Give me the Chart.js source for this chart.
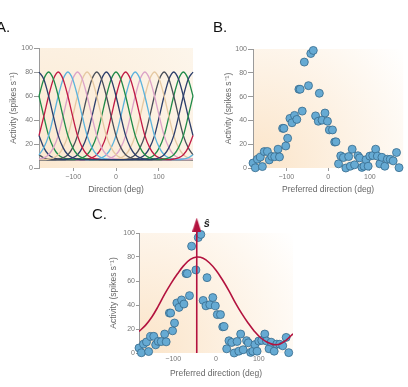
<!DOCTYPE html>
<html>
<head>
<meta charset="utf-8">
<script src="https://cdn.jsdelivr.net/npm/chart.js@4.4.1/dist/chart.umd.min.js"></script>
<style>
  html, body { margin: 0; padding: 0; background: #fff; }
  body { width: 408px; height: 387px; position: relative; overflow: hidden; font-family: "Liberation Sans", Arial, sans-serif; }
  canvas { position: absolute; }
  .tag { position: absolute; color: #111; font-size: 15px; line-height: 15px; }
</style>
</head>
<body>
<canvas id="chartA" width="200" height="200" style="left:0;top:0"></canvas>
<canvas id="chartB" width="208" height="200" style="left:200px;top:0"></canvas>
<canvas id="chartC" width="220" height="187" style="left:90px;top:200px"></canvas>
<div class="tag" style="left:-4px;top:19px">A.</div>
<div class="tag" style="left:213px;top:19px">B.</div>
<div class="tag" style="left:92px;top:206px">C.</div>

<script>
// ---- shared axis ticks ----
const xTicks = [-100, 0, 100];
const yTicks = [0, 20, 40, 60, 80, 100];

// ---- panel A: tuning curves ----
const dirGrid = [-180, -168.75, -157.5, -146.25, -135, -123.75, -112.5, -101.25, -90, -78.75,
  -67.5, -56.25, -45, -33.75, -22.5, -11.25, 0, 11.25, 22.5, 33.75, 45, 56.25, 67.5, 78.75,
  90, 101.25, 112.5, 123.75, 135, 146.25, 157.5, 168.75, 180];
const prefDirs = [-180, -157.5, -135, -112.5, -90, -67.5, -45, -22.5, 0, 22.5, 45, 67.5, 90, 112.5, 135, 157.5];
// activity, every 11.25 deg away from its peak
const tuningShape = [80, 74, 60, 43, 27, 17, 11, 8.5, 7.5];
const baseline = 7;
const curveColors = ["#2c3e6b", "#1f8a48", "#c01a45", "#5cb3dd", "#dca3c8", "#e6c9a2", "#4a4f59"];

// ---- panels B and C: population response ----
const cellDirs = [-180, -174.5, -169.5, -162.5, -157.5, -153, -145.5, -141, -135, -128, -120, -116.5,
  -109, -106, -101.5, -97, -91.5, -86.5, -80.5, -75, -70, -67, -62, -57, -47, -41.5, -35.5, -30,
  -23.5, -21, -14.5, -7.5, -1.5, 3, 10.5, 15.7, 18.8, 25, 30.3, 36.7, 42.5, 49.3, 53.3, 57.7, 63.5,
  71.5, 75.5, 81, 86, 91, 96, 100, 107, 114, 118, 124, 129, 136, 142, 149, 156, 164, 170];
const cellRates = [4.2, 0.2, 7.4, 9.2, 1.2, 13.8, 13.9, 6.8, 9.7, 9.5, 15.8, 9.3,
  33.3, 33.3, 18.5, 25, 41.7, 38, 44.2, 40.8, 66.2, 66.2, 47.8, 89, 69.2, 96.2, 98.8, 43.8,
  39.3, 62.8, 40.2, 46.2, 39.3, 32, 32, 21.8, 22, 3.5, 10.2, 8.8, 0, 9.6, 1.5, 15.8, 2.7,
  10.3, 8.5, 0.5, 1.5, 7, 1.5, 10, 10.5, 15.8, 10, 3.5, 9, 1.5, 7.4, 7.3, 6, 13, 0.3];

// ---- panel C: fitted curve and population vector ----
const fitDirs = [-180, -165, -150, -135, -120, -105, -90, -75, -60, -45, -30, -15, 0, 15, 30, 45, 60, 75, 90, 105, 120, 135, 150, 165, 180];
const fitRates = [18, 23, 30, 39, 49, 58, 66, 73, 78, 80, 79, 75, 69, 61, 52, 42, 33, 25, 18, 12.5, 9, 7, 7.5, 11, 16];
const popDir = -45;
const arrowSpan = [0, 107];

const RED = "#b3123e";
Chart.defaults.font.family = '"Liberation Sans", Arial, sans-serif';
Chart.defaults.animation = false;

// cream shading behind each plot
const plotShade = {
  id: "plotShade",
  beforeDraw(chart, args, opts) {
    const { ctx, chartArea: a } = chart;
    const r = Math.hypot(a.width, a.height) * opts.reach;
    const g = ctx.createRadialGradient(a.left, a.bottom, 0, a.left, a.bottom, r);
    g.addColorStop(0, opts.inner);
    g.addColorStop(1, opts.outer);
    ctx.save();
    ctx.fillStyle = g;
    ctx.fillRect(a.left, a.top, a.width, a.height);
    ctx.restore();
  },
};

function makeScales(o) {
  return {
    x: {
      type: "linear",
      min: -180,
      max: 180,
      afterBuildTicks: (s) => { s.ticks = xTicks.map((v) => ({ value: v })); },
      afterFit: (s) => { s.height = o.xh; },
      border: { display: false },
      grid: { drawOnChartArea: false, drawTicks: o.xTickLen > 0, tickLength: o.xTickLen, color: "#9a9a9a" },
      ticks: { color: "#777", font: { size: 7 }, padding: o.xPad, maxRotation: 0, callback: (v) => (v < 0 ? "\u2212" + -v : v) },
      title: { display: true, text: o.xTitle, color: "#666", font: { size: 8.5 }, padding: { top: 0, bottom: o.xTitlePad } },
    },
    y: {
      min: 0,
      max: 100,
      afterBuildTicks: (s) => { s.ticks = yTicks.map((v) => ({ value: v })); },
      afterFit: (s) => { s.width = o.yw; },
      border: { display: true, color: "#9a9a9a", width: 1 },
      grid: { drawOnChartArea: false, tickLength: o.yTickLen, color: "#9a9a9a" },
      ticks: { color: "#777", font: { size: 7 }, padding: 1 },
      title: { display: true, text: "Activity (spikes s\u207B\u00B9)", color: "#666", font: { size: 8.5 }, padding: { top: o.yTitlePad, bottom: 0 } },
    },
  };
}

const dotStyle = {
  type: "scatter",
  pointRadius: 4,
  pointBackgroundColor: "#66aad3",
  pointBorderColor: "#356a8c",
  pointBorderWidth: 0.8,
  clip: false,
};

// ============ A ============
const curveSets = prefDirs.map((p, i) => ({
  data: dirGrid.map((x) => {
    let d = Math.abs(x - p) % 360;
    if (d > 180) d = 360 - d;
    const k = Math.round(d / 11.25);
    return { x: x, y: k < tuningShape.length ? tuningShape[k] : baseline };
  }),
  borderColor: curveColors[i % curveColors.length],
  borderWidth: 1.3,
  pointRadius: 0,
  cubicInterpolationMode: "monotone",
  clip: false,
}));

new Chart(document.getElementById("chartA"), {
  type: "line",
  data: { datasets: curveSets },
  options: {
    responsive: false,
    layout: { padding: { top: 48, right: 7, left: 0, bottom: 0 } },
    plugins: {
      legend: { display: false }, tooltip: { enabled: false },
      plotShade: { inner: "#fbe8d0", outer: "#fdf7ee", reach: 1.1 },
    },
    scales: makeScales({ xh: 32, yw: 39, xTickLen: 3, xPad: 2, xTitle: "Direction (deg)", xTitlePad: 5, yTickLen: 5, yTitlePad: 9 }),
  },
  plugins: [plotShade],
});

// ============ B ============
const cellPoints = cellDirs.map((x, i) => ({ x: x, y: cellRates[i] }));

new Chart(document.getElementById("chartB"), {
  type: "scatter",
  data: { datasets: [Object.assign({ data: cellPoints }, dotStyle)] },
  options: {
    responsive: false,
    layout: { padding: { top: 49, right: 0, left: 0, bottom: 0 } },
    plugins: {
      legend: { display: false }, tooltip: { enabled: false },
      plotShade: { inner: "#fbe4c8", outer: "#ffffff", reach: 1.0 },
    },
    scales: makeScales({ xh: 32, yw: 53, xTickLen: 3, xPad: 2, xTitle: "Preferred direction (deg)", xTitlePad: 5, yTickLen: 5, yTitlePad: 24 }),
  },
  plugins: [plotShade],
});

// ============ C ============
const headImg = document.createElement("canvas");
headImg.width = 9;
headImg.height = 14;
{
  const hc = headImg.getContext("2d");
  hc.fillStyle = RED;
  hc.beginPath();
  hc.moveTo(4.5, 0);
  hc.lineTo(9, 14);
  hc.lineTo(0, 14);
  hc.closePath();
  hc.fill();
}

const hatLabel = {
  id: "hatLabel",
  afterDatasetsDraw(chart) {
    const { ctx, scales } = chart;
    const x = scales.x.getPixelForValue(popDir) + 10;
    const y = scales.y.getPixelForValue(arrowSpan[1]) - 1;
    ctx.save();
    ctx.fillStyle = "#222";
    ctx.font = 'italic bold 11px "Liberation Sans", Arial, sans-serif';
    ctx.textAlign = "center";
    ctx.textBaseline = "middle";
    ctx.fillText("\u015D", x, y);
    ctx.restore();
  },
};

new Chart(document.getElementById("chartC"), {
  type: "scatter",
  data: {
    datasets: [
      Object.assign({ data: cellPoints, order: 3 }, dotStyle),
      {
        type: "line",
        data: fitDirs.map((x, i) => ({ x: x, y: fitRates[i] })),
        borderColor: RED,
        borderWidth: 1.6,
        pointRadius: 0,
        tension: 0.4,
        order: 2,
      },
      {
        type: "line",
        data: arrowSpan.map((v) => ({ x: popDir, y: v })),
        borderColor: RED,
        borderWidth: 1.6,
        pointRadius: [0, 12],
        pointStyle: [false, headImg],
        clip: false,
        order: 1,
      },
    ],
  },
  options: {
    responsive: false,
    layout: { padding: { top: 33, right: 17, left: 0, bottom: 0 } },
    plugins: {
      legend: { display: false }, tooltip: { enabled: false },
      plotShade: { inner: "#fbe4c8", outer: "#ffffff", reach: 1.0 },
    },
    scales: makeScales({ xh: 34, yw: 49, xTickLen: 0, xPad: 2, xTitle: "Preferred direction (deg)", xTitlePad: 8, yTickLen: 3, yTitlePad: 19 }),
  },
  plugins: [plotShade, hatLabel],
});
</script>
</body>
</html>
